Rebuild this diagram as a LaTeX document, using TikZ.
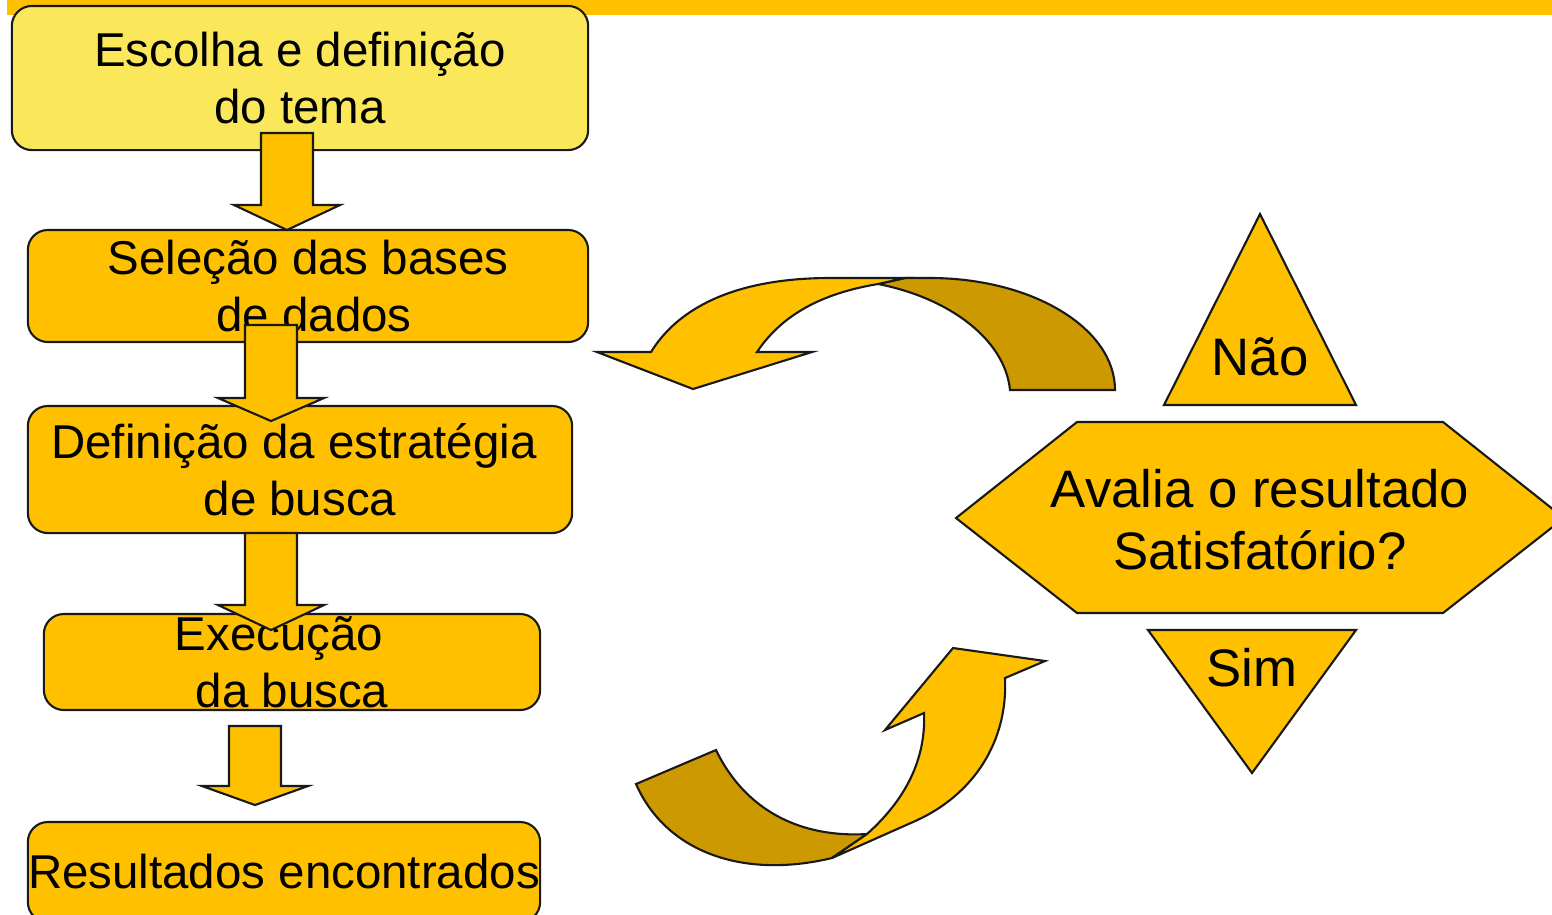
\documentclass[tikz,border=0pt]{standalone}
\usepackage{fontspec}
\setmainfont{Liberation Sans}
\usetikzlibrary{positioning}

\definecolor{ouro}{HTML}{FFC000}
\definecolor{claro}{HTML}{FAE85A}
\definecolor{escuro}{HTML}{CC9A00}

\tikzset{
  caixa/.style={draw=black!90, fill=ouro, rounded corners=0.2cm, line width=0.6pt,
    align=center, inner sep=0pt, font=\fontsize{13.5}{16.2}\selectfont},
  seta/.style={draw=black!90, fill=ouro, line width=0.6pt, line join=miter},
  rotulo/.style={align=center, inner sep=0pt, font=\fontsize{15}{17.6}\selectfont},
}

% seta grossa para baixo: x, topo, base da ponta, ponta
\newcommand{\setabaixo}[4]{%
  \filldraw[seta] (#1-26,#2) -- (#1+26,#2) -- (#1+26,#3) -- (#1+53,#3)
    -- (#1,#4) -- (#1-53,#3) -- (#1-26,#3) -- cycle;}

\begin{document}
\begin{tikzpicture}[x=0.01cm, y=-0.01cm]

    \clip (0,0) rectangle (1552,914);
    \fill[ouro] (7,0) rectangle (1552,15);

    % coluna da esquerda
    \node[caixa, fill=claro, minimum width=5.76cm, minimum height=1.44cm] (escolha) at (300,78) {Escolha e definição\\do tema};
    \node[caixa, minimum width=5.6cm, minimum height=1.12cm] (selecao) at (308,286) {Seleção das bases\\\hspace*{0.12cm}de dados};
    \node[caixa, minimum width=5.44cm, minimum height=1.27cm] (estrategia) at (300,469.5) {Definição da estratégia\hspace*{0.12cm}\\de busca};
    \node[caixa, minimum width=4.96cm, minimum height=0.96cm] (execucao) at (292,662) {Execução\hspace*{0.26cm}\\da busca};
    \node[caixa, minimum width=5.12cm, minimum height=1cm] (resultados) at (284,872) {Resultados encontrados};

    \setabaixo{287}{133}{205}{230}
    \setabaixo{271}{325}{398}{421}
    \setabaixo{271}{533}{605}{630}
    \setabaixo{255}{726}{786}{805}

    % setas curvas
    \filldraw[seta, fill=escuro] (1115,390) .. controls (1115,328) and (1032,278) .. (930,278)
      -- (905,278) -- (878,284) .. controls (950,298) and (1005,340) .. (1010,390) -- cycle;
    \filldraw[seta] (878,284) -- (905,278) -- (830,278) .. controls (740,278) and (680,305) .. (651,352)
      -- (597,352) -- (693,389) -- (812,352) -- (757,352) .. controls (785,310) and (830,292) .. cycle;

    \filldraw[seta, fill=escuro] (716,750) .. controls (745,810) and (800,838) .. (867,834)
      -- (832,858) .. controls (740,880) and (665,850) .. (636,784) -- cycle;
    \filldraw[seta] (867,834) .. controls (905,800) and (926,760) .. (924,713) -- (885,730)
      -- (953,648) -- (1045,661) -- (1005,678) .. controls (1008,740) and (975,795) .. (913,822)
      -- (832,858) -- cycle;

    % decisao
    \filldraw[seta] (956,518) -- (1077,422) -- (1443,422) -- (1564,518) -- (1443,613) -- (1077,613) -- cycle;
    \node[rotulo] (avalia) at (1260,520) {Avalia o resultado\\Satisfatório?};

    \filldraw[seta] (1260,214) -- (1356,405) -- (1164,405) -- cycle;
    \node[rotulo] (nao) at (1260,357) {Não};

    \filldraw[seta] (1148,630) -- (1356,630) -- (1252,773) -- cycle;
    \node[rotulo] (sim) at (1252,668) {Sim};

\end{tikzpicture}
\end{document}
